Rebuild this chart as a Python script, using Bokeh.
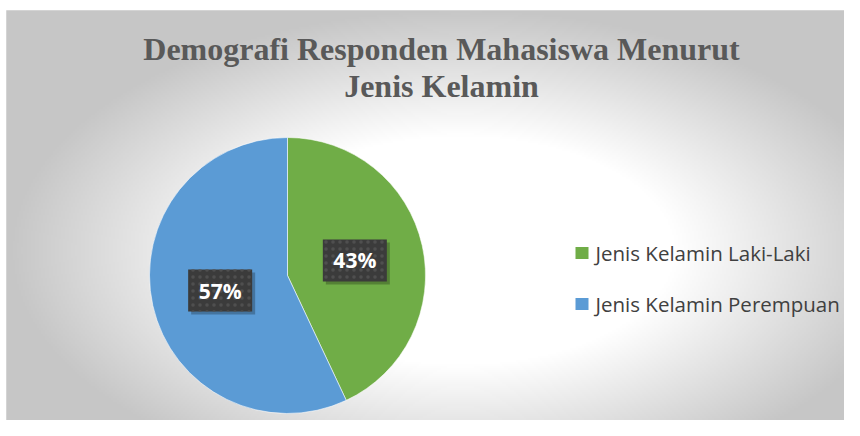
import numpy as np
from bokeh.plotting import figure
from bokeh.models import ColumnDataSource, Range1d, Label, BoxAnnotation
from bokeh.core.properties import value
from bokeh.embed import file_html
from bokeh.resources import INLINE

# ---- data ----
categories = ["Jenis Kelamin Laki-Laki", "Jenis Kelamin Perempuan"]
percentages = [43, 57]
colors = ["#70AD47", "#5B9BD5"]
title_lines = ["Demografi Responden Mahasiswa Menurut", "Jenis Kelamin"]

W, H = 844, 420
p = figure(width=W, height=H, output_backend="svg", toolbar_location=None,
           x_range=Range1d(0, W), y_range=Range1d(0, H), min_border=0)
p.axis.visible = False
p.grid.visible = False
p.outline_line_color = None
p.background_fill_color = "white"
p.border_fill_color = "white"

# ---- chart-area background: radial gradient (decoration) ----
fx0, fy1 = 6.0, H - 10.0           # chart area left / top edges
fw, fh = W - fx0, fy1
nx, ny = int(fw // 2), int(fh // 2)
gx = fx0 + (np.arange(nx) + 0.5) * fw / nx
gy = (np.arange(ny) + 0.5) * fh / ny
GX, GY = np.meshgrid(gx, gy)
gcx, gcy, gax, gay = 460.0, 170.0, 430.0, 230.0
d = np.sqrt(((GX - gcx) / gax) ** 2 + ((GY - gcy) / gay) ** 2)
t = np.clip((d - 0.5) / 0.55, 0, 1)
v = (255 - 57 * t).astype(np.uint8)
img = np.empty((ny, nx), dtype=np.uint32)
view = img.view(dtype=np.uint8).reshape((ny, nx, 4))
view[:, :, 0] = v
view[:, :, 1] = v
view[:, :, 2] = v
view[:, :, 3] = 255
p.image_rgba(image=[img], x=fx0, y=0, dw=fw, dh=fh)
p.add_layout(BoxAnnotation(left=fx0, right=W + 5, top=fy1, bottom=-5,
                           fill_color=None, line_color="#b4b4b4", line_width=1))

# ---- pie ----
pcx, pcy, R = 287.0, 145.0, 138.0
vals = np.array(percentages, dtype=float)
frac = vals / vals.sum()
ends_cum = np.cumsum(frac)
starts = np.pi / 2 - (ends_cum - frac) * 2 * np.pi
ends = np.pi / 2 - ends_cum * 2 * np.pi
mids = (starts + ends) / 2
lx = pcx + 0.5 * R * np.cos(mids)
ly = pcy + 0.5 * R * np.sin(mids)

src = ColumnDataSource(dict(category=categories, start=starts, end=ends, color=colors,
                            lx=lx, ly=ly, sx=lx + 3, sy=ly - 3,
                            txt=[f"{x}%" for x in percentages]))

p.wedge(x=pcx, y=pcy, radius=R, start_angle="start", end_angle="end", direction="clock",
        fill_color="color", line_color="white", line_width=0.8, line_alpha=0.7, source=src)

# data labels
p.rect(x="sx", y="sy", width=64, height=42, width_units="screen", height_units="screen",
       fill_color="black", fill_alpha=0.25, line_color=None, source=src)
p.rect(x="lx", y="ly", width=64, height=42, width_units="screen", height_units="screen",
       fill_color="#3b3b3b", line_color=None, hatch_pattern="dot", hatch_color="#4f4f4f",
       hatch_scale=7, hatch_weight=1.5, source=src)
p.text(x="lx", y="ly", text="txt", text_align="center", text_baseline="middle",
       text_font=value("Open Sans"), text_font_style="bold", text_font_size="21px",
       text_color="white", source=src)

# ---- title ----
for i, line in enumerate(title_lines):
    p.add_layout(Label(x=441, y=372 - 37 * i, text=line, text_align="center",
                       text_baseline="alphabetic", text_font="Liberation Serif",
                       text_font_style="bold", text_font_size="32px", text_color="#595959"))

# ---- legend (manual) ----
idx = np.arange(len(categories))
leg_y = 167.5 - 51 * idx
leg = ColumnDataSource(dict(gx=np.full(len(categories), 581.5), tx=np.full(len(categories), 595.0),
                            y=leg_y, color=colors, label=categories))
p.rect(x="gx", y="y", width=13, height=12, width_units="screen", height_units="screen",
       fill_color="color", line_color=None, source=leg)
p.text(x="tx", y="y", text="label", text_align="left", text_baseline="middle",
       text_font=value("Open Sans"), text_font_size="20.5px", text_color="#404040", source=leg)

open("out.html", "w").write(file_html(p, INLINE))
